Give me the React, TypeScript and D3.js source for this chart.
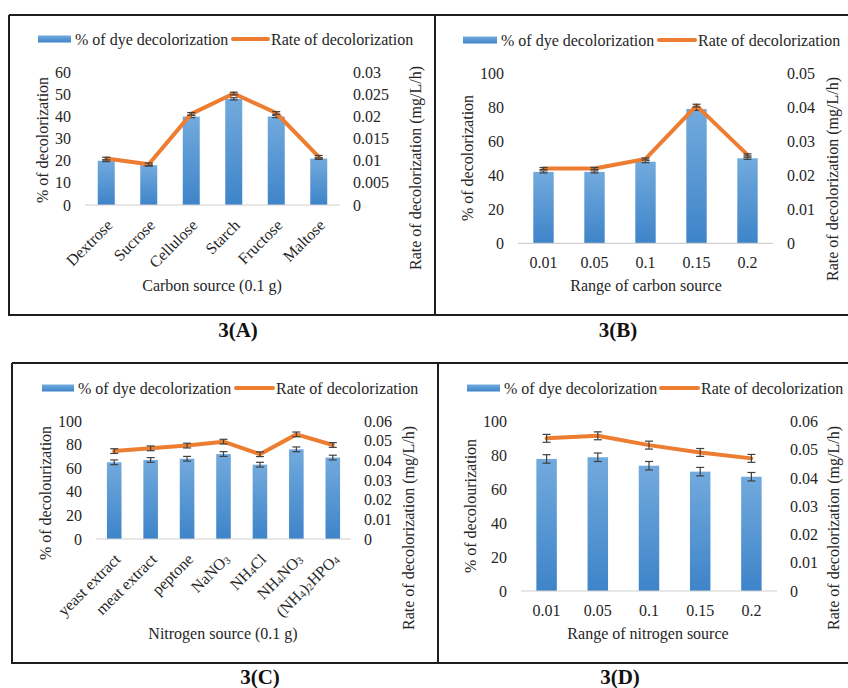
import React from "react";
import * as d3 from "d3";

// ---- 3(A): carbon source type ----
const carbonSources = ["Dextrose", "Sucrose", "Cellulose", "Starch", "Fructose", "Maltose"];
const carbonPct = [20, 18, 40, 48, 40, 21];
const carbonPctErr = [0.4, 0.4, 0.5, 0.5, 0.5, 0.4];
const carbonRate = [0.0105, 0.0092, 0.0206, 0.0252, 0.0208, 0.0109];
const carbonRateErr = [0.0003, 0.0003, 0.0003, 0.0003, 0.0003, 0.0003];
const carbonPctTicks = [0, 10, 20, 30, 40, 50, 60];
const carbonRateTicks = [0, 0.005, 0.01, 0.015, 0.02, 0.025, 0.03];

// ---- 3(B): carbon source amount ----
const carbonAmounts = ["0.01", "0.05", "0.1", "0.15", "0.2"];
const carbonAmountPct = [42, 42, 48, 79, 50];
const carbonAmountPctErr = [0.6, 0.6, 0.6, 0.8, 0.6];
const carbonAmountRate = [0.022, 0.022, 0.0248, 0.0405, 0.026];
const carbonAmountRateErr = [0.0003, 0.0003, 0.0003, 0.0004, 0.0003];
const carbonAmountPctTicks = [0, 20, 40, 60, 80, 100];
const carbonAmountRateTicks = [0, 0.01, 0.02, 0.03, 0.04, 0.05];

// ---- 3(C): nitrogen source type ({n} = subscript) ----
const nitrogenSources = ["yeast extract", "meat extract", "peptone", "NaNO{3}", "NH{4}Cl", "NH{4}NO{3}", "(NH{4}){2}HPO{4}"];
const nitrogenPct = [65, 67, 68, 72, 63, 76, 69];
const nitrogenPctErr = [2, 2, 2, 2, 2, 2, 2];
const nitrogenRate = [0.0447, 0.0461, 0.0475, 0.0495, 0.0431, 0.0532, 0.0478];
const nitrogenRateErr = [0.0012, 0.0012, 0.0012, 0.0012, 0.0012, 0.0012, 0.0012];
const nitrogenPctTicks = [0, 20, 40, 60, 80, 100];
const nitrogenRateTicks = [0, 0.01, 0.02, 0.03, 0.04, 0.05, 0.06];

// ---- 3(D): nitrogen source amount ----
const nitrogenAmounts = ["0.01", "0.05", "0.1", "0.15", "0.2"];
const nitrogenAmountPct = [78, 79, 74, 70.5, 67.5];
const nitrogenAmountPctErr = [2.5, 2.5, 2.5, 2.5, 2.5];
const nitrogenAmountRate = [0.0541, 0.055, 0.0517, 0.0491, 0.047];
const nitrogenAmountRateErr = [0.0014, 0.0014, 0.0014, 0.0014, 0.0014];
const nitrogenAmountPctTicks = [0, 20, 40, 60, 80, 100];
const nitrogenAmountRateTicks = [0, 0.01, 0.02, 0.03, 0.04, 0.05, 0.06];

const BAR_LABEL = "% of dye decolorization";
const LINE_LABEL = "Rate of decolorization";
const RATE_TITLE = "Rate of decolorization (mg/L/h)";

const FONT = "'Liberation Serif', 'Times New Roman', serif";
const FS = 16;
const TEXT = "#262626";
const ORANGE = "#ED7D31";
const ERR = "#404040";

type PanelCfg = {
  id: string;
  categories: string[];
  pct: number[];
  pctErr: number[];
  rate: number[];
  rateErr: number[];
  pctTicks: number[];
  rateTicks: number[];
  xRange: [number, number];
  yRange: [number, number]; // [y of 0, y of max]
  leftLabelX: number;
  rightLabelX: number;
  leftTitle: string;
  leftTitlePos: [number, number];
  rightTitlePos: [number, number];
  xTitle: string;
  xTitlePos: [number, number];
  rotated: boolean;
  tickLabelY: number;
  legendY: number;
  legendX: [number, number, number, number]; // bar swatch start/end, line swatch start/end
};

// Split "NH{4}NO{3}" into normal and subscript runs
function richLabel(label: string) {
  const parts: { t: string; sub: boolean }[] = [];
  const re = /\{([^}]*)\}|([^{]+)/g;
  let m: RegExpExecArray | null;
  while ((m = re.exec(label))) {
    if (m[1] !== undefined) parts.push({ t: m[1], sub: true });
    else parts.push({ t: m[2], sub: false });
  }
  const out: React.ReactNode[] = [];
  let shifted = false;
  parts.forEach((p, i) => {
    let dy = 0;
    if (p.sub && !shifted) { dy = 3; shifted = true; }
    else if (!p.sub && shifted) { dy = -3; shifted = false; }
    out.push(
      <tspan key={i} dy={dy || undefined} fontSize={p.sub ? 10.5 : undefined}>{p.t}</tspan>
    );
  });
  return out;
}

const fmtRate = (v: number) => (v === 0 ? "0" : String(+v.toFixed(3)));

function Panel({ cfg }: { cfg: PanelCfg }) {
  const pctMax = cfg.pctTicks[cfg.pctTicks.length - 1];
  const rateMax = cfg.rateTicks[cfg.rateTicks.length - 1];
  const xc = d3.scaleBand<string>().domain(cfg.categories).range(cfg.xRange);
  const y = d3.scaleLinear().domain([0, pctMax]).range(cfg.yRange);
  const yr = d3.scaleLinear().domain([0, rateMax]).range(cfg.yRange);
  const cx = (c: string) => (xc(c) ?? 0) + xc.bandwidth() / 2;
  const bw = xc.bandwidth() / 2.5; // 150% gap width
  const line = d3
    .line<number>()
    .x((_, i) => cx(cfg.categories[i]))
    .y((v) => yr(v));
  const base = cfg.yRange[0];
  const [lx0, lx1, ox0, ox1] = cfg.legendX;
  const gid = `barGrad${cfg.id}`;
  const errBar = (x0: number, y1: number, y2: number, key: string) => (
    <g key={key} stroke={ERR} strokeWidth={1.2}>
      <line x1={x0} x2={x0} y1={y1} y2={y2} />
      <line x1={x0 - 4} x2={x0 + 4} y1={y1} y2={y1} />
      <line x1={x0 - 4} x2={x0 + 4} y1={y2} y2={y2} />
    </g>
  );
  return (
    <g fontFamily={FONT} fill={TEXT} fontSize={FS}>
      <defs>
        <linearGradient id={gid} x1="0" y1="0" x2="0" y2="1">
          <stop offset="0%" stopColor="#72aadd" />
          <stop offset="100%" stopColor="#3e84c9" />
        </linearGradient>
      </defs>
      {/* legend */}
      <rect x={lx0} y={cfg.legendY - 3.5} width={lx1 - lx0} height={7} fill={`url(#${gid})`} />
      <text x={lx1 + 4} y={cfg.legendY} dominantBaseline="central">{BAR_LABEL}</text>
      <line x1={ox0} x2={ox1} y1={cfg.legendY} y2={cfg.legendY} stroke={ORANGE} strokeWidth={4} strokeLinecap="round" />
      <text x={ox1 + 3} y={cfg.legendY} dominantBaseline="central">{LINE_LABEL}</text>

      {/* left axis labels */}
      {cfg.pctTicks.map((t) => (
        <text key={`l${t}`} x={cfg.leftLabelX} y={y(t)} textAnchor="end" dominantBaseline="central">{t}</text>
      ))}
      {/* right axis labels */}
      {cfg.rateTicks.map((t) => (
        <text key={`r${t}`} x={cfg.rightLabelX} y={yr(t)} dominantBaseline="central">{fmtRate(t)}</text>
      ))}

      {/* bars */}
      {cfg.categories.map((c, i) => (
        <rect key={`b${c}`} x={cx(c) - bw / 2} y={y(cfg.pct[i])} width={bw} height={base - y(cfg.pct[i])} fill={`url(#${gid})`} />
      ))}
      {/* baseline */}
      <line x1={cfg.xRange[0]} x2={cfg.xRange[1]} y1={base} y2={base} stroke="#d0d0d0" strokeWidth={1.2} />

      {/* bar error bars */}
      {cfg.categories.map((c, i) =>
        errBar(cx(c), y(cfg.pct[i] + cfg.pctErr[i]), y(cfg.pct[i] - cfg.pctErr[i]), `be${c}`)
      )}

      {/* rate line with its error bars */}
      <path d={line(cfg.rate) ?? ""} fill="none" stroke={ORANGE} strokeWidth={4} strokeLinejoin="round" strokeLinecap="round" />
      {cfg.categories.map((c, i) =>
        errBar(cx(c), yr(cfg.rate[i] + cfg.rateErr[i]), yr(cfg.rate[i] - cfg.rateErr[i]), `le${c}`)
      )}

      {/* category labels */}
      {cfg.categories.map((c) =>
        cfg.rotated ? (
          <text key={`x${c}`} transform={`translate(${cx(c) + 3},${base + 17}) rotate(-45)`} textAnchor="end" dominantBaseline="central">
            {richLabel(c)}
          </text>
        ) : (
          <text key={`x${c}`} x={cx(c)} y={cfg.tickLabelY} textAnchor="middle" dominantBaseline="central">{c}</text>
        )
      )}

      {/* axis titles */}
      <text transform={`translate(${cfg.leftTitlePos[0]},${cfg.leftTitlePos[1]}) rotate(-90)`} textAnchor="middle" dominantBaseline="central">{cfg.leftTitle}</text>
      <text transform={`translate(${cfg.rightTitlePos[0]},${cfg.rightTitlePos[1]}) rotate(-90)`} textAnchor="middle" dominantBaseline="central">{RATE_TITLE}</text>
      <text x={cfg.xTitlePos[0]} y={cfg.xTitlePos[1]} textAnchor="middle" dominantBaseline="central">{cfg.xTitle}</text>
    </g>
  );
}

const panels: PanelCfg[] = [
  {
    id: "A", categories: carbonSources, pct: carbonPct, pctErr: carbonPctErr, rate: carbonRate, rateErr: carbonRateErr,
    pctTicks: carbonPctTicks, rateTicks: carbonRateTicks,
    xRange: [85, 340], yRange: [205, 72.3], leftLabelX: 71, rightLabelX: 353,
    leftTitle: "% of decolorization", leftTitlePos: [42, 140], rightTitlePos: [415, 168],
    xTitle: "Carbon source (0.1 g)", xTitlePos: [212, 285], rotated: true, tickLabelY: 0,
    legendY: 39, legendX: [38, 71, 233, 268],
  },
  {
    id: "B", categories: carbonAmounts, pct: carbonAmountPct, pctErr: carbonAmountPctErr, rate: carbonAmountRate, rateErr: carbonAmountRateErr,
    pctTicks: carbonAmountPctTicks, rateTicks: carbonAmountRateTicks,
    xRange: [518, 773], yRange: [243.3, 73.3], leftLabelX: 504, rightLabelX: 787,
    leftTitle: "% of decolorization", leftTitlePos: [467, 158], rightTitlePos: [832, 179],
    xTitle: "Range of carbon source", xTitlePos: [646, 285], rotated: false, tickLabelY: 262,
    legendY: 40, legendX: [463, 497, 659, 695],
  },
  {
    id: "C", categories: nitrogenSources, pct: nitrogenPct, pctErr: nitrogenPctErr, rate: nitrogenRate, rateErr: nitrogenRateErr,
    pctTicks: nitrogenPctTicks, rateTicks: nitrogenRateTicks,
    xRange: [96, 351], yRange: [539, 421], leftLabelX: 82, rightLabelX: 364,
    leftTitle: "% of decolourization", leftTitlePos: [45, 493], rightTitlePos: [408, 528],
    xTitle: "Nitrogen source (0.1 g)", xTitlePos: [223, 633], rotated: true, tickLabelY: 0,
    legendY: 388, legendX: [42, 74, 236, 273],
  },
  {
    id: "D", categories: nitrogenAmounts, pct: nitrogenAmountPct, pctErr: nitrogenAmountPctErr, rate: nitrogenAmountRate, rateErr: nitrogenAmountRateErr,
    pctTicks: nitrogenAmountPctTicks, rateTicks: nitrogenAmountRateTicks,
    xRange: [521, 777], yRange: [591, 421.7], leftLabelX: 507, rightLabelX: 790,
    leftTitle: "% of decolourization", leftTitlePos: [470, 506], rightTitlePos: [833, 528],
    xTitle: "Range of nitrogen source", xTitlePos: [648, 633], rotated: false, tickLabelY: 610,
    legendY: 388, legendX: [467, 500, 661, 698],
  },
];

const captions = [
  { t: "3(A)", x: 238, y: 330 },
  { t: "3(B)", x: 618, y: 330 },
  { t: "3(C)", x: 260, y: 677 },
  { t: "3(D)", x: 620, y: 677 },
];

export default function App() {
  return (
    <svg width={848} height={688} style={{ position: "absolute", left: 0, top: 0, background: "#fff" }}>
      <rect width={848} height={688} fill="#fff" />
      {/* panel frames */}
      <g stroke="#1e1e1e" strokeWidth={2} fill="none">
        <path d="M9,15 H848 M9,15 V315 H848 M435,15 V315" />
        <path d="M12,363 H848 M12,363 V663 H848 M438,363 V663" />
      </g>
      {panels.map((p) => (
        <Panel key={p.id} cfg={p} />
      ))}
      {captions.map((c) => (
        <text key={c.t} x={c.x} y={c.y} textAnchor="middle" dominantBaseline="central" fontFamily={FONT} fontWeight="bold" fontSize={21} fill="#111">
          {c.t}
        </text>
      ))}
    </svg>
  );
}
